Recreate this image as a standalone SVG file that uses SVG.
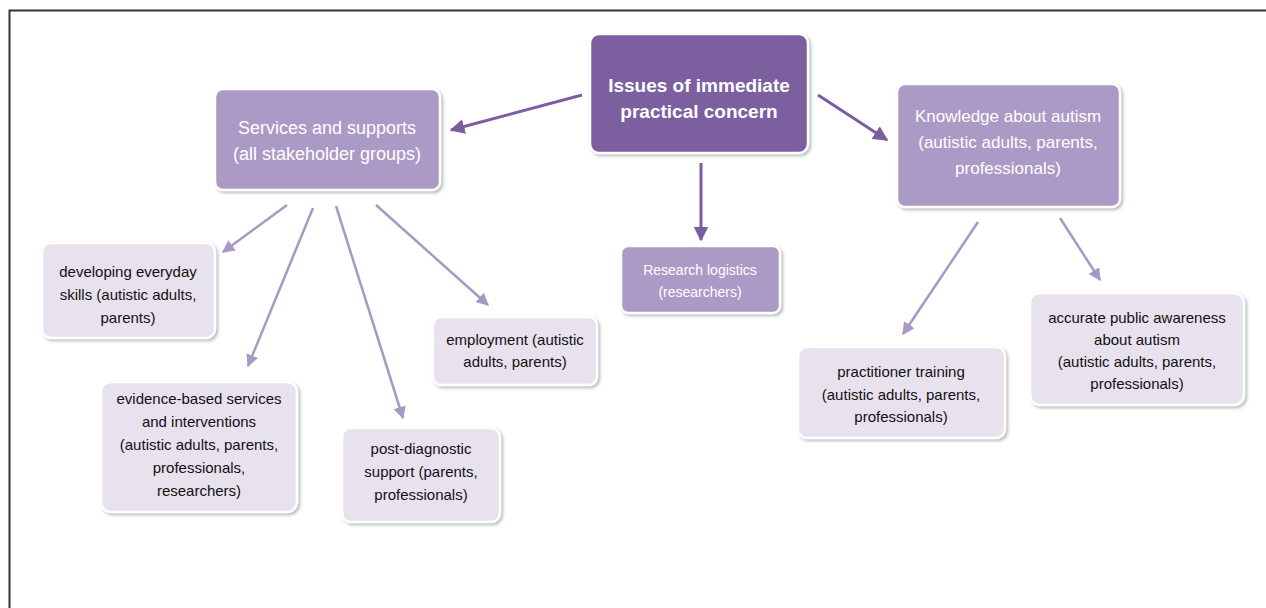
<svg xmlns="http://www.w3.org/2000/svg" width="1266" height="608" viewBox="0 0 1266 608">
<defs>
<filter id="sh" x="-10%" y="-10%" width="130%" height="130%">
<feDropShadow dx="2" dy="2" stdDeviation="1.5" flood-color="#8a9a94" flood-opacity="0.6"/>
</filter>
<marker id="ad" viewBox="0 0 10 10" refX="9" refY="5" markerWidth="5" markerHeight="5" orient="auto" markerUnits="strokeWidth">
<path d="M0,0 L10,5 L0,10 z" fill="#7b5ea0"/>
</marker>
<marker id="al" viewBox="0 0 10 10" refX="9" refY="5" markerWidth="5" markerHeight="5" orient="auto" markerUnits="strokeWidth">
<path d="M0,0 L10,5 L0,10 z" fill="#a898c4"/>
</marker>
</defs>
<style>
.box{stroke:#ffffff;stroke-width:2.5;filter:url(#sh)}
.dark{fill:#7b5e9f}
.mid{fill:#ab9ac6}
.light{fill:#e8e2ee}
.tw{font-family:"Liberation Sans",Arial,sans-serif;fill:#ffffff;text-anchor:middle}
.tb{font-family:"Liberation Sans",Arial,sans-serif;fill:#111111;font-size:15px;text-anchor:middle}
.cd{stroke:#7b5ea0;stroke-width:3;fill:none;marker-end:url(#ad)}
.cl{stroke:#a898c4;stroke-width:2.5;fill:none;marker-end:url(#al)}
</style>
<rect width="1266" height="608" fill="#ffffff"/>
<path d="M9.5,608 L9.5,10.5 L1266,10.5" fill="none" stroke="#333333" stroke-width="2"/>
<g id="connectors">
<line class="cd" x1="582" y1="95" x2="451" y2="130"/>
<line class="cd" x1="818" y1="95" x2="887" y2="140"/>
<line class="cd" x1="701" y1="163" x2="701" y2="240"/>
<line class="cl" x1="287" y1="205" x2="223" y2="252"/>
<line class="cl" x1="313" y1="208" x2="248" y2="366"/>
<line class="cl" x1="336" y1="206" x2="403" y2="418"/>
<line class="cl" x1="376" y1="205" x2="488" y2="305"/>
<line class="cl" x1="978" y1="222" x2="903" y2="334"/>
<line class="cl" x1="1060" y1="218" x2="1100" y2="280"/>
</g>
<g id="main">
<rect class="box dark" x="590" y="34" width="218" height="119" rx="9"/>
<text class="tw" font-size="19" font-weight="bold"><tspan x="699" y="92">Issues of immediate</tspan><tspan x="699" y="118">practical concern</tspan></text>
</g>
<g id="services">
<rect class="box mid" x="215" y="89" width="225" height="101" rx="8"/>
<text class="tw" font-size="18"><tspan x="327" y="134">Services and supports</tspan><tspan x="327" y="160">(all stakeholder groups)</tspan></text>
</g>
<g id="knowledge">
<rect class="box mid" x="897" y="84" width="223" height="123" rx="8"/>
<text class="tw" font-size="17"><tspan x="1008" y="122">Knowledge about autism</tspan><tspan x="1008" y="148">(autistic adults, parents,</tspan><tspan x="1008" y="174">professionals)</tspan></text>
</g>
<g id="research">
<rect class="box mid" x="621" y="246" width="159" height="67" rx="7"/>
<text class="tw" font-size="14"><tspan x="700" y="275">Research logistics</tspan><tspan x="700" y="297">(researchers)</tspan></text>
</g>
<g id="developing">
<rect class="box light" x="42" y="243" width="173" height="95" rx="9"/>
<text class="tb"><tspan x="128" y="277">developing everyday</tspan><tspan x="128" y="300">skills (autistic adults,</tspan><tspan x="128" y="323">parents)</tspan></text>
</g>
<g id="evidence">
<rect class="box light" x="101" y="382" width="196" height="130" rx="10"/>
<text class="tb"><tspan x="199" y="404">evidence-based services</tspan><tspan x="199" y="427">and interventions</tspan><tspan x="199" y="450">(autistic adults, parents,</tspan><tspan x="199" y="473">professionals,</tspan><tspan x="199" y="496">researchers)</tspan></text>
</g>
<g id="postdiag">
<rect class="box light" x="342" y="428" width="158" height="94" rx="9"/>
<text class="tb"><tspan x="421" y="454">post-diagnostic</tspan><tspan x="421" y="477">support (parents,</tspan><tspan x="421" y="500">professionals)</tspan></text>
</g>
<g id="employment">
<rect class="box light" x="433" y="317" width="164" height="68" rx="8"/>
<text class="tb"><tspan x="515" y="345">employment (autistic</tspan><tspan x="515" y="367">adults, parents)</tspan></text>
</g>
<g id="practitioner">
<rect class="box light" x="798" y="347" width="207" height="91" rx="9"/>
<text class="tb"><tspan x="901" y="377">practitioner training</tspan><tspan x="901" y="400">(autistic adults, parents,</tspan><tspan x="901" y="422">professionals)</tspan></text>
</g>
<g id="accurate">
<rect class="box light" x="1030" y="293" width="214" height="112" rx="10"/>
<text class="tb"><tspan x="1137" y="323">accurate public awareness</tspan><tspan x="1137" y="345">about autism</tspan><tspan x="1137" y="367">(autistic adults, parents,</tspan><tspan x="1137" y="389">professionals)</tspan></text>
</g>
</svg>
